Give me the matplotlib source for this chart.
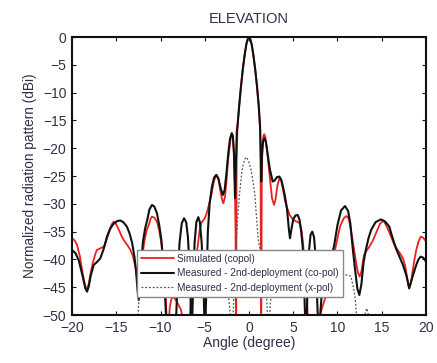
import matplotlib
matplotlib.use("Agg")
import matplotlib.pyplot as plt

# ---- data (angle in degree, pattern in dBi) ----
main_x = [-1.3, -1.1, -0.9, -0.7, -0.5, -0.3, -0.1, 0.0, 0.1, 0.3, 0.5, 0.7, 0.9, 1.1]
main_y = [-16, -12.2, -8.8, -5.8, -3.3, -1.3, -0.15, 0.0, -0.15, -1.3, -3.3, -5.8, -8.8, -12.4]

sim_left_x = [-20, -19.7, -19.43, -19.1, -18.8, -18.5, -18.3, -18.1, -17.9, -17.66, -17.4, -17.2,
              -16.8, -16.4, -16.1, -15.85, -15.55, -15.3, -15.0, -14.7, -14.4, -14.16, -13.8,
              -13.4, -13.1, -12.85, -12.65, -12.5, -12.35, -12.2, -12.0, -11.8, -11.55, -11.33,
              -11.1, -10.96, -10.7, -10.4, -10.15, -9.9, -9.6, -9.4, -9.25, -9.1, -8.95, -8.75,
              -8.6, -8.4, -8.2, -7.7, -7.3, -7.0, -6.75, -6.55, -6.3, -6.05, -5.8, -5.6, -5.4,
              -5.2, -5.0, -4.78, -4.5, -4.22, -3.95, -3.65, -3.45, -3.25, -3.05, -2.9, -2.72,
              -2.55, -2.38, -2.2, -2.05, -1.9, -1.8, -1.7, -1.6, -1.52, -1.46, -1.4]
sim_left_y = [-36.2, -36.6, -37.4, -39.5, -42.5, -44.8, -45.4, -44.3, -42.5, -40.7, -39.2, -38.3,
              -38, -37.7, -36.5, -35.3, -33.8, -33.2, -33.7, -34.7, -35.8, -36.5, -37.3,
              -38.3, -39.5, -41.3, -43.5, -45, -44, -42, -38.8, -36.5, -34.7, -33.8,
              -32.6, -32.3, -32.5, -33.2, -34.8, -37.1, -42, -47, -53, -52, -48.5, -47,
              -46.8, -47, -47.5, -49, -52, -58, -52, -47, -43, -40, -37.7, -35, -33.5,
              -33, -32.6, -31.7, -30, -28.1, -25.8, -24.8, -25.5, -27.5, -29.2, -29.9, -28.8,
              -26, -22.5, -19.8, -18, -17.6, -18.5, -21, -26, -35, -60, -22]
sim_right_x = [1.25, 1.31, 1.37, 1.44, 1.52, 1.63, 1.73, 1.85, 2.0, 2.2, 2.4, 2.6, 2.83, 3.0,
               3.2, 3.43, 3.65, 3.85, 4.05, 4.26, 4.6, 5.0, 5.4, 5.76, 5.95, 6.1, 6.3, 6.5,
               6.7, 6.88, 7.05, 7.3, 7.6, 7.95, 8.3, 8.7, 9.2, 9.8, 10.3, 10.7, 11.0, 11.25,
               11.5, 11.7, 11.9, 12.1, 12.3, 12.5, 12.7, 13.0, 13.3, 13.6, 14.0, 14.35, 14.8,
               15.2, 15.6, 16.05, 16.4, 16.8, 17.1, 17.4, 17.65, 17.9, 18.1, 18.3, 18.5, 18.7,
               18.9, 19.15, 19.4, 19.7, 20]
sim_right_y = [-16.5, -22, -60, -26, -19.5, -17.8, -17.5, -18.0, -19.8, -23, -26, -29, -30.2, -29.2,
               -26.8, -25.4, -25.9, -27.5, -29.3, -30.5, -32, -32.9, -33.2, -33.5, -35, -37, -41, -46,
               -52, -58, -52, -51.5, -52.5, -50.5, -48.5, -46.5, -42, -37.7, -34, -32.6, -32.2, -32.6,
               -34.5, -36.5, -38.6, -40.5, -42.3, -43.1, -42.2, -39.2, -38.4, -37.7, -36.6, -35.3, -33.6,
               -33.0, -34.2, -35.9, -37.3, -38.3, -39, -39.8, -41.2, -43.5, -45.2, -44.2, -42, -40,
               -38.3, -36.8, -35.9, -36.1, -36.8]

co_left_x = [-20, -19.6, -19.25, -18.8, -18.5, -18.3, -18.1, -17.9, -17.55, -17.2, -16.8, -16.4,
             -16.05, -15.7, -15.3, -14.9, -14.55, -14.2, -13.8, -13.5, -13.2, -12.95, -12.77,
             -12.6, -12.46, -12.33, -12.2, -12.0, -11.75, -11.5, -11.25, -10.96, -10.7, -10.4,
             -10.15, -9.9, -9.7, -9.5, -9.35, -9.0, -8.5, -8.25, -8.05, -7.85, -7.6, -7.34,
             -7.1, -6.9, -6.7, -6.55, -6.45, -6.3, -6.15, -5.95, -5.73, -5.55, -5.35, -5.15,
             -4.98, -4.8, -4.65, -4.45, -4.2, -3.95, -3.7, -3.45, -3.2, -2.95, -2.75, -2.55,
             -2.35, -2.15, -1.95, -1.82, -1.7, -1.58, -1.47, -1.38]
co_left_y = [-38.3, -38.9, -40.1, -43, -45.2, -45.8, -44.8, -43, -41, -40.5, -39.8, -38,
             -35.9, -34.5, -33.6, -33.1, -33.0, -33.3, -34.1, -35.3, -37.1, -39.5, -41.9,
             -45.5, -47.3, -45.5, -41.5, -37, -34.5, -32.9, -31, -30.2, -30.5, -31.7,
             -33.8, -36.5, -40.5, -46, -51, -57, -57, -51, -43, -37, -33.5, -32.6,
             -33.3, -36, -42, -50, -53, -44, -37, -33.3, -32.4, -33.3, -37, -44,
             -55, -44, -35, -30, -27, -25.3, -24.8, -25.5, -27.2, -28.4, -27.5, -24.5,
             -21, -18.3, -17.3, -17.8, -21, -29, -22, -17]
co_right_x = [1.25, 1.31, 1.38, 1.47, 1.6, 1.75, 1.9, 2.1, 2.37, 2.68, 2.9, 3.15, 3.43, 3.65,
              3.85, 4.07, 4.3, 4.5, 4.63, 4.8, 5.0, 5.25, 5.5, 5.7, 5.9, 6.07, 6.2, 6.33, 6.45,
              6.6, 6.75, 6.95, 7.15, 7.35, 7.55, 7.72, 7.9, 8.05, 8.2, 8.6, 9.1, 9.6, 10.0, 10.4,
              10.85, 11.2, 11.45, 11.7, 12.0, 12.25, 12.47, 12.7, 12.95, 13.2, 13.5, 13.8, 14.3,
              14.9, 15.4, 15.85, 16.2, 16.6, 17.0, 17.4, 17.8, 18.1, 18.5, 18.9, 19.15, 19.4,
              19.7, 20]
co_right_y = [-16, -19.5, -26, -21, -18.7, -18.2, -18.8, -21, -23.9, -26, -25.8, -25.2, -25.1, -25.7,
              -27, -28.7, -31, -34.5, -36.2, -34.5, -32.8, -32.1, -32.0, -32.8, -35, -37.8, -43, -50, -55,
              -46, -39, -35.6, -35, -36, -40, -48, -55, -50, -46.5, -44, -40.5, -37.7, -33.8, -31.2,
              -30.4, -31.3, -33.5, -37.7, -42, -45.3, -46.4, -44.5, -40.5, -38.3, -36.2, -34.7, -33.3,
              -32.8, -33.2, -34.1, -36, -38, -39.5, -41, -43, -45.2, -43, -41, -40, -39.5,
              -39.7, -40.4]

xp_x = [-20, -13.0, -12.6, -12.4, -12.0, -10.0, -7.0, -4.0, -2.5, -2.1, -1.95, -1.8, -1.6,
        -1.45, -1.3, -1.1, -0.8, -0.5, -0.3, -0.05, 0.25, 0.5, 0.68, 0.85, 1.05, 1.3, 1.6,
        2.0, 2.2, 2.4, 2.8, 6.0, 9.0, 11.5, 11.8, 12.0, 12.2, 12.5, 13.0, 13.3, 13.6, 14.0, 20]
xp_y = [-60, -60, -52, -46, -42, -41, -43, -42, -44, -50, -56, -50, -42,
        -37, -33, -28.7, -24, -22, -21.6, -22.3, -24, -26.5, -28.7, -32.5, -36.5, -38.5, -42,
        -47, -55, -48, -43, -42, -42, -43, -45, -47, -51, -58, -50.5, -48.8, -50.5, -60, -60]

x_ticks = [-20, -15, -10, -5, 0, 5, 10, 15, 20]
y_ticks = [0, -5, -10, -15, -20, -25, -30, -35, -40, -45, -50]
labels = ["Simulated (copol)",
          "Measured - 2nd-deployment (co-pol)",
          "Measured - 2nd-deployment (x-pol)"]

sim_x = sim_left_x + main_x + sim_right_x
sim_y = sim_left_y + main_y + sim_right_y
co_x = co_left_x + main_x + co_right_x
co_y = co_left_y + main_y + co_right_y

# ---- styling ----
plt.rcParams['font.family'] = ['Liberation Sans', 'DejaVu Sans']
txt = '#2e3048'

fig = plt.figure(figsize=(4.37, 3.63), dpi=100)
ax = fig.add_axes([0.1648, 0.1322, 0.81, 0.7658])

ax.plot(sim_x, sim_y, color='#e8231f', lw=1.3, label=labels[0],
        solid_joinstyle='round', solid_capstyle='round')
ax.plot(co_x, co_y, color='#111111', lw=1.5, label=labels[1],
        solid_joinstyle='round', solid_capstyle='round')
ax.plot(xp_x, xp_y, color='#555555', lw=0.9, ls=(0, (1.5, 1.5)), label=labels[2])

ax.set_xlim(-20, 20)
ax.set_ylim(-50, 0)
ax.set_xticks(x_ticks)
ax.set_yticks(y_ticks)
ax.tick_params(direction='in', top=True, right=True, length=3, width=0.8,
               labelsize=10, colors='#111111', labelcolor=txt, pad=4)
for s in ax.spines.values():
    s.set_linewidth(1.5)
    s.set_color('#111111')

ax.set_xlabel("Angle (degree)", fontsize=10, color=txt, labelpad=1)
ax.set_ylabel("Normalized radiation pattern (dBi)", fontsize=9.8, color=txt, labelpad=4)
ax.set_title("ELEVATION", fontsize=10.5, color=txt, pad=10)

leg = ax.legend(loc='lower left', bbox_to_anchor=(0.183, 0.066), borderaxespad=0,
                fontsize=7.2, frameon=True, fancybox=False, framealpha=1,
                edgecolor='#888888', handlelength=3.3, handletextpad=0.35,
                labelspacing=0.45, borderpad=0.4)
leg.get_frame().set_linewidth(1.0)
for t in leg.get_texts():
    t.set_color(txt)

fig.savefig("out.png", dpi=100)
